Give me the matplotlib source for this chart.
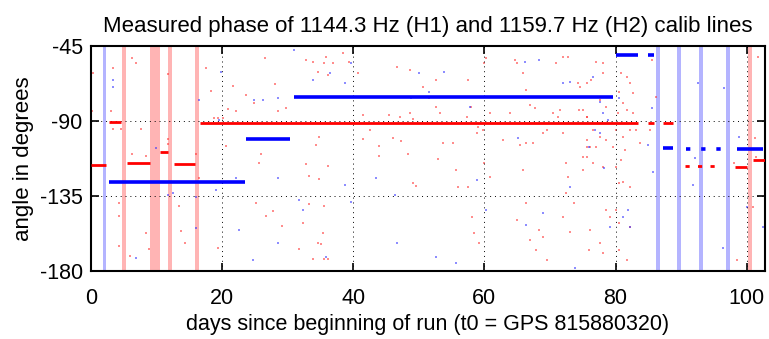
import matplotlib.pyplot as plt

plt.rcParams['font.family'] = ['Liberation Sans', 'DejaVu Sans']
plt.rcParams['axes.unicode_minus'] = False

# vetoed / bad stretches (days)
h2_bands = [(1.8, 2.3), (86.2, 86.8), (89.4, 90.0), (92.8, 93.4), (96.8, 97.4)]
h1_bands = [(4.8, 5.3), (9.05, 10.5), (11.8, 12.4), (15.9, 16.5), (100.2, 100.8)]

# H1 (red) steady phase segments: start day, end day, phase
h1_start = [0.0, 2.8, 5.5, 10.5, 12.7, 16.7, 85.0, 87.2, 98.2, 101.0]
h1_end = [2.3, 4.6, 9.05, 11.8, 15.9, 83.4, 85.8, 88.8, 100.0, 102.8]
h1_phase = [-116.4, -90.4, -115.0, -108.4, -115.8, -91.2, -91.0, -91.0, -117.4, -113.4]
h1_sparse_start = [90.6]
h1_sparse_end = [95.6]
h1_sparse_phase = [-117.0]

# H2 (blue) steady phase segments
h2_start = [2.8, 23.6, 30.9, 80.0, 84.9, 87.2, 98.5]
h2_end = [23.5, 30.4, 79.6, 83.4, 85.8, 88.8, 102.5]
h2_phase = [-126.8, -101.0, -75.6, -50.4, -50.4, -106.0, -107.0]
h2_sparse_start = [90.7]
h2_sparse_end = [96.7]
h2_sparse_phase = [-106.8]

# scattered outliers
h1_out_day = [0.25, 3.3, 6.3, 6.9, 0.2, 3.0, 3.3, 4.6, 6.3, 8.4, 7.6, 4.3, 4.3, 4.3, 8.4, 5.9, 8.9,
              11.7, 11.7, 11.7, 13.5, 13.7, 14.3, 16.0, 16.5, 17.6, 18.3, 18.8, 19.3, 20.1, 20.6, 19.3,
              21.6, 22.1, 20.9, 23.6, 25.2, 26.5, 28.0, 28.5, 29.8, 24.9, 25.9, 25.7, 26.7, 27.7, 29.2,
              32.3, 32.8, 33.8, 35.6, 35.9, 34.6, 36.1, 35.9, 34.8, 34.3, 36.1, 32.8, 33.3, 34.8, 33.3,
              35.6, 35.4, 34.6, 35.1, 35.6, 31.8, 36.1, 33.8,
              36.9, 38.4, 39.4, 40.7, 41.5, 41.5, 42.5, 43.9, 43.9, 46.6, 45.5, 48.6, 48.6, 47.1, 49.1,
              47.3, 46.1, 48.3, 49.1, 49.6, 50.6, 51.6, 52.6, 52.9, 53.7, 52.6, 53.2, 55.2, 55.7, 56.0,
              57.5, 58.1, 57.9, 57.3, 58.8, 59.0, 57.5, 58.1, 59.2, 58.4, 60.3, 60.0, 60.8, 59.8, 60.0,
              60.8, 62.8, 63.9, 64.9, 65.9, 66.4, 64.6, 67.0, 67.7, 65.4, 66.4, 67.4, 65.9, 66.4, 64.9,
              68.4, 68.9, 67.0, 67.9, 69.5, 69.5, 70.5, 71.5, 71.3, 72.0, 72.8, 71.0, 69.0, 72.0, 72.5,
              72.8, 74.3, 74.8, 75.1, 75.6, 75.6, 75.6, 75.1, 75.9, 73.0, 72.0, 73.6, 72.5,
              74.6, 75.6, 76.3, 77.1, 78.1, 78.1, 77.6, 78.6, 74.5, 75.6, 76.6, 77.6, 78.6, 75.6, 76.1,
              77.1, 75.1, 76.6, 78.1, 79.6, 80.1, 80.4, 80.6, 80.9, 81.7, 82.2, 82.7, 81.2, 81.7, 82.7,
              82.2, 81.2, 81.4, 80.9, 82.2, 81.2, 80.1, 80.6, 80.1, 80.6, 82.2, 79.1, 78.6, 77.6, 76.1,
              78.1, 80.6, 81.7, 85.2, 86.2, 85.5, 83.7, 83.2, 98.0, 101.2, 101.5, 101.8, 98.5, 101.0]
h1_out_phase = [-61.4, -58, -52, -55, -84, -84, -95, -95, -110, -111, -95, -139, -147, -165, -157, -171, -167,
                -62, -101, -104, -141, -156, -163, -110, -124, -58, -72, -88, -88, -88, -105, -166,
                -69, -84, -83, -74.4, -139, -52, -68, -84, -82.4, -79.4, -110, -115, -147, -144, -153,
                -151, -53.4, -54.4, -55.4, -51.4, -60.4, -62.4, -75.4, -99.4, -104.4, -117, -116, -123, -125, -140,
                -141, -157, -163, -164, -173, -167, -173, -173,
                -55.4, -49.4, -54.4, -61.4, -86.4, -101, -95.4, -105, -111, -57.4, -86.4, -59.4, -85.4, -87.4, -89,
                -102, -100, -110, -127, -129, -69.4, -76.4, -65.4, -113, -103, -81.4, -85.4, -103.4, -119.4, -129.4,
                -65.4, -75.4, -81.4, -87.4, -97.4, -93.4, -129.4, -147.4, -163.4, -157.4, -52.4, -55.4, -85.4, -95.4, -115.4,
                -123.4, -101.4, -85.4, -55.4, -61.4, -71.4, -53.4, -80.4, -82.4, -104.4, -103.4, -103.4, -119.4, -139.4, -149.4,
                -155.4, -159.4, -161.4, -167.4, -173.4, -95.4, -85.4, -83.4, -87.4, -51.4, -51.4, -55.4, -97.4, -97.4, -115.4,
                -123.4, -67.4, -75.4, -83.4, -87.4, -105.4, -111.4, -119.4, -167.4, -156.4, -147.4, -139.4, -133.4,
                -69.4, -67.4, -65.4, -54.4, -55.4, -61.4, -77.4, -81.4, -83.4, -87.4, -95.4, -99.4, -101.4, -101.4, -105.4,
                -105.4, -111.4, -115.4, -117.4, -105.4, -95.4, -85.4, -72.4, -61.4, -63.4, -67.4, -73.4, -79.4, -83.4, -85.4,
                -95.4, -99.4, -107.4, -113.4, -129.4, -126.4, -117.4, -127.4, -143.4, -151.4, -153.4, -147.4, -143.4, -163.4, -155.4,
                -169.4, -167.4, -173.4, -95.4, -75.4, -53.4, -103.4, -95.4, -115.4, -100.4, -111.4, -51.4, -173.4, -141.4]

h2_out_day = [3.3, 3.3, 19.8, 16.5, 24.9, 26.2, 28.5, 33.8, 36.4, 31.0, 9.9, 11.7, 12.5, 16.0, 19.1, 22.1,
              28.5, 31.8, 32.3, 22.6, 16.0, 28.5, 24.7, 6.9, 35.9, 19.6,
              39.7, 38.7, 38.7, 39.7, 43.5, 46.3, 50.1, 51.6, 53.9, 48.8, 57.8, 58.8, 65.2, 66.2, 68.4,
              72.0, 73.0, 73.0, 68.9, 66.4, 60.3, 55.7, 52.6, 46.6, 75.9, 73.8,
              76.6, 77.6, 78.1, 76.9, 77.6, 78.3, 78.9, 80.6, 81.9, 82.2, 81.2, 79.1, 85.5, 85.0, 92.6,
              96.6, 92.1, 91.8, 96.4, 98.9, 100.0, 102.5, 85.7]
h2_out_phase = [-65.4, -69.4, -60.4, -77.4, -77.4, -77.4, -76.4, -65.4, -61.4, -47.4, -106.4, -134.4, -133.4,
                -135.4, -131.4, -124.4, -124.4, -137.4, -143.4, -155.4, -154.4, -163.4, -173.4, -172.4, -171.4, -89.4,
                -55.4, -67.4, -128.4, -138.4, -124.4, -134.4, -61.4, -72.4, -60.4, -76.4, -81.4, -125.4, -100.4, -54.4,
                -53.4, -67.4, -66.4, -129.4, -145.4, -152.4, -143.4, -175.4, -171.4, -163.4, -105.4, -178.4,
                -63.4, -78.4, -85.4, -95.4, -97.4, -118.4, -89.4, -76.4, -143.4, -153.4, -147.4, -153.4, -82.4,
                -104.4, -67.4, -70.4, -112.4, -128.4, -166.4, -99.4, -141.4, -153.4, -120.4]

fig = plt.figure(figsize=(7.69, 3.39), dpi=100)
ax = fig.add_axes([0.1183, 0.2006, 0.8765, 0.6637])

for a, b in h2_bands:
    ax.axvspan(a, b, color='#b4b4ff', lw=0, zorder=0)
for a, b in h1_bands:
    ax.axvspan(a, b, color='#ffb4b4', lw=0, zorder=0)

ax.scatter(h1_out_day, h1_out_phase, s=4, marker='s', color='#ff3030', alpha=0.55, lw=0, zorder=2)
ax.scatter(h2_out_day, h2_out_phase, s=4, marker='s', color='#3030ff', alpha=0.55, lw=0, zorder=2)

ax.hlines(h1_phase, h1_start, h1_end, color='red', lw=2.0, zorder=3)
ax.hlines(h1_sparse_phase, h1_sparse_start, h1_sparse_end, color='red', lw=2.0,
          linestyles=(0, (1.5, 3)), zorder=3)
ax.hlines(h2_phase, h2_start, h2_end, color='blue', lw=2.6, zorder=3)
ax.hlines(h2_sparse_phase, h2_sparse_start, h2_sparse_end, color='blue', lw=2.6,
          linestyles=(0, (1.2, 3)), zorder=3)

ax.set_xlim(0, 102.8)
ax.set_ylim(-180, -45)
ax.set_xticks([0, 20, 40, 60, 80, 100])
ax.set_yticks([-45, -90, -135, -180])
ax.grid(True, color='black', linestyle=(0, (1, 4)), linewidth=0.7)
ax.set_axisbelow(False)
ax.tick_params(direction='in', top=True, right=True, labelsize=15.5, length=6, width=1.2)
ax.tick_params(axis='x', pad=12)
ax.tick_params(axis='y', pad=6)
for sp in ax.spines.values():
    sp.set_linewidth(1.5)

ax.set_title('Measured phase of 1144.3 Hz (H1) and 1159.7 Hz (H2) calib lines', fontsize=16, pad=10)
ax.set_xlabel('days since beginning of run (t0 = GPS 815880320)', fontsize=15.5, labelpad=4)
ax.set_ylabel('angle in degrees', fontsize=16, labelpad=4)

fig.savefig('out.png', dpi=100)
